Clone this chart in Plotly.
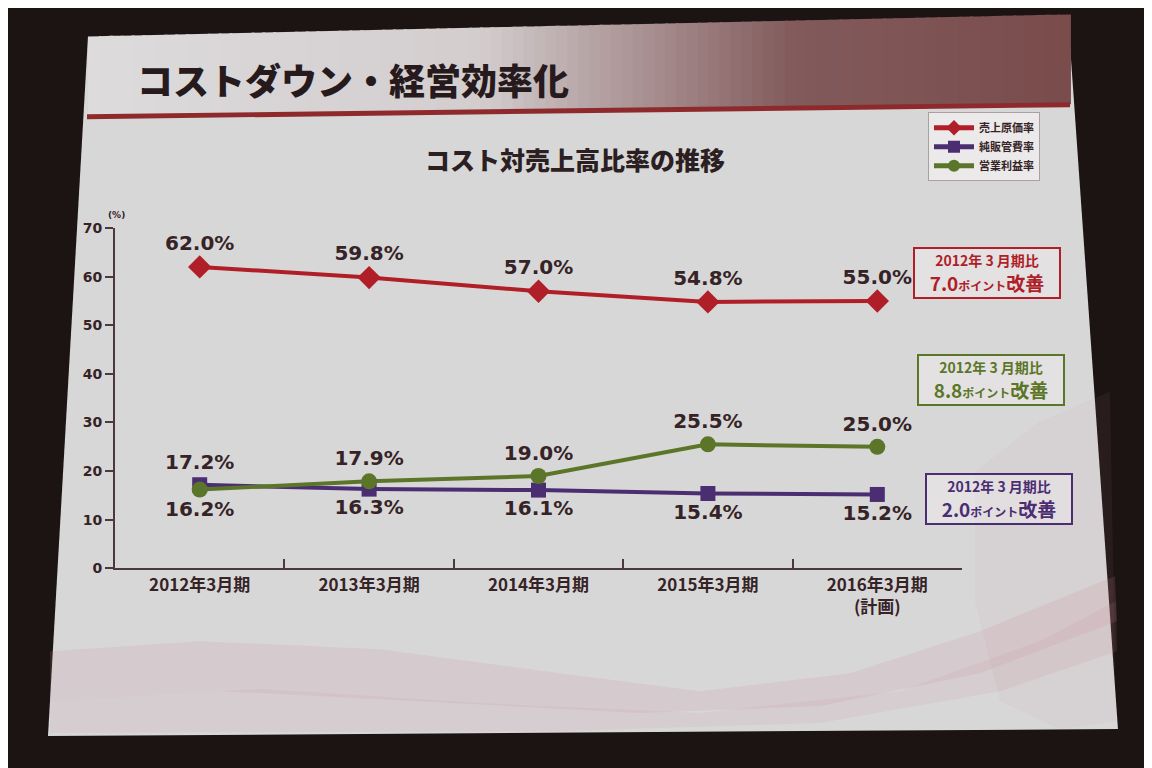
import plotly.graph_objects as go

# data
periods = ["2012年3月期", "2013年3月期", "2014年3月期", "2015年3月期", "2016年3月期<br>(計画)"]
cost_of_sales = [62.0, 59.8, 57.0, 54.8, 55.0]      # 売上原価率
sga_ratio = [17.2, 16.3, 16.1, 15.4, 15.2]          # 純販管費率
op_margin = [16.2, 17.9, 19.0, 25.5, 25.0]          # 営業利益率
series_names = ["売上原価率", "純販管費率", "営業利益率"]
improvements = ["7.0", "2.0", "8.8"]

W, H = 1152, 768
RED, PURPLE, GREEN = "#b01e28", "#4b2d72", "#5b7628"
INK = "#352326"


def px(x, y):
    # screen pixel (as seen in the photo) -> paper coords, with a small
    # correction for where the page lands in the browser shot
    x = x - 8
    y = (y - 13.6) / 0.981
    return x / W, 1 - y / H


def path(points):
    pts = [px(x, y) for x, y in points]
    return "M " + " L ".join(f"{a:.4f},{b:.4f}" for a, b in pts) + " Z"


def mix(c1, c2, t):
    a = [int(c1[i:i + 2], 16) for i in (1, 3, 5)]
    b = [int(c2[i:i + 2], 16) for i in (1, 3, 5)]
    return "#" + "".join(f"{round(p + (q - p) * t):02x}" for p, q in zip(a, b))


fig = go.Figure()

labels = [[f"{v:.1f}%" for v in s] for s in (cost_of_sales, sga_ratio, op_margin)]
pos_sga = ["top center"] + ["bottom center"] * 4
pos_op = ["bottom center"] + ["top center"] * 4

fig.add_trace(go.Scatter(x=periods, y=cost_of_sales, name=series_names[0], mode="lines+markers+text",
                         text=labels[0], textposition="top center",
                         line=dict(color=RED, width=4), marker=dict(symbol="diamond", size=18, color=RED)))
fig.add_trace(go.Scatter(x=periods, y=sga_ratio, name=series_names[1], mode="lines+markers+text",
                         text=labels[1], textposition=pos_sga,
                         line=dict(color=PURPLE, width=4), marker=dict(symbol="square", size=15, color=PURPLE)))
fig.add_trace(go.Scatter(x=periods, y=op_margin, name=series_names[2], mode="lines+markers+text",
                         text=labels[2], textposition=pos_op,
                         line=dict(color=GREEN, width=4), marker=dict(symbol="circle", size=16, color=GREEN)))
fig.update_traces(textfont=dict(family="DejaVu Sans", size=20, color=INK, weight="bold"), cliponaxis=False)

shapes = []
# projected slide
shapes.append(dict(type="path", xref="paper", yref="paper", layer="below",
                   path=path([(88, 35), (1068, 13), (1118, 728), (48, 735)]),
                   fillcolor="#d8d7d8", line=dict(width=0)))
# title bar gradient, drawn as thin overlapping strips
n = 90
for i in range(n):
    t0, t1 = i / n, (i + 1) / n
    x0, x1 = 88 + 980 * t0, 88 + 980 * t1
    yt0, yt1 = 35 - 22 * t0, 35 - 22 * t1
    yb0, yb1 = 114 - 12 * t0, 114 - 12 * t1
    tm = (t0 + t1) / 2
    if tm < 0.4:
        col = mix("#dddbdc", "#d3cdce", tm / 0.4)
    elif tm < 0.72:
        col = mix("#d3cdce", "#825a5b", (tm - 0.4) / 0.32)
    else:
        col = mix("#825a5b", "#7a4c4c", (tm - 0.72) / 0.28)
    shapes.append(dict(type="path", xref="paper", yref="paper", layer="below",
                       path=path([(x0, yt0 - 1), (x1 + 3, yt1 - 1), (x1 + 3, yb1), (x0, yb0)]),
                       fillcolor=col, line=dict(width=0)))
# red rule under the title
shapes.append(dict(type="path", xref="paper", yref="paper", layer="below",
                   path=path([(87, 112), (1070, 100), (1070, 105), (87, 117)]),
                   fillcolor="#8e2a2c", line=dict(width=0)))
# soft pink swooshes in the lower part of the slide
for pts, alpha in [
    ([(50, 650), (200, 640), (380, 648), (560, 672), (700, 690), (850, 672), (980, 630), (1115, 575),
      (1117, 620), (980, 672), (820, 705), (640, 712), (420, 700), (220, 690), (50, 700)], 0.16),
    ([(50, 700), (260, 688), (480, 702), (700, 712), (900, 690), (1040, 640), (1116, 600),
      (1117, 650), (1000, 690), (820, 722), (560, 730), (50, 732)], 0.12),
    ([(975, 470), (1040, 420), (1110, 390), (1116, 720), (1060, 728), (1000, 700), (975, 600)], 0.08),
]:
    shapes.append(dict(type="path", xref="paper", yref="paper", layer="below",
                       path=path(pts), fillcolor=f"rgba(196,136,148,{alpha})", line=dict(width=0)))

annotations = []
tx, ty = px(135, 77)
annotations.append(dict(x=tx, y=ty, xref="paper", yref="paper", xanchor="left", yanchor="middle",
                        text="コストダウン・経営効率化", showarrow=False,
                        font=dict(family="Noto Sans CJK JP", size=36, color="#261a1c", weight=900)))
tx, ty = px(575, 157)
annotations.append(dict(x=tx, y=ty, xref="paper", yref="paper", xanchor="center", yanchor="middle",
                        text="コスト対売上高比率の推移", showarrow=False,
                        font=dict(family="Noto Sans CJK JP", size=25, color="#2c1f22", weight=900)))
tx, ty = px(116, 213)
annotations.append(dict(x=tx, y=ty, xref="paper", yref="paper", xanchor="center", yanchor="middle",
                        text="<b>(%)</b>", showarrow=False,
                        font=dict(family="DejaVu Sans", size=9, color=INK)))

# improvement call-out boxes
for (cx, cy), val, col in zip([(987, 271), (999, 498), (991, 378)], improvements, [RED, PURPLE, GREEN]):
    bx, by = px(cx, cy)
    annotations.append(dict(
        x=bx, y=by, xref="paper", yref="paper", xanchor="center", yanchor="middle", showarrow=False,
        text=(f"<span style='font-size:14px'>2012年 3 月期比</span><br>{val}"
              f"<span style='font-size:12px'>ポイント</span>改善"),
        font=dict(family="Noto Sans CJK JP", size=19, color=col, weight="bold"),
        bordercolor=col, borderwidth=2, borderpad=1, bgcolor="rgba(236,234,235,0.55)", width=142))

x0, y0 = px(115, 567)
x1, y1 = px(962, 226)
lx, ly = px(928, 110)

fig.update_layout(
    width=W, height=H,
    margin=dict(l=0, r=0, t=0, b=0),
    paper_bgcolor="#1c1313",
    plot_bgcolor="rgba(0,0,0,0)",
    shapes=shapes,
    annotations=annotations,
    showlegend=True,
    legend=dict(x=lx, y=ly, xanchor="left", yanchor="top", bgcolor="#ebe9ea",
                bordercolor="#a8a0a1", borderwidth=1, itemwidth=40, itemsizing="constant",
                tracegroupgap=2,
                font=dict(family="Noto Sans CJK JP", size=11, color=INK, weight="bold")),
    xaxis=dict(domain=[x0, x1], range=[-0.5, 4.5], showgrid=False, zeroline=False,
               showline=True, linecolor="#4a3a3c", linewidth=2,
               ticks="inside", tickson="boundaries", ticklen=9, tickcolor="#4a3a3c", tickwidth=2,
               tickfont=dict(family="Noto Sans CJK JP", size=17, color=INK, weight="bold")),
    yaxis=dict(domain=[y0, y1], range=[0, 70], dtick=10, showgrid=False, zeroline=False,
               showline=True, linecolor="#4a3a3c", linewidth=2,
               ticks="outside", ticklen=8, tickcolor="#4a3a3c", tickwidth=2,
               tickfont=dict(family="DejaVu Sans", size=14, color=INK, weight="bold")),
)

fig.write_html("out.html")
